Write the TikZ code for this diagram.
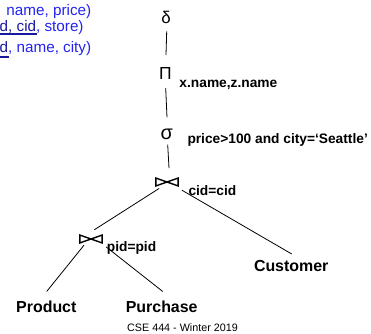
\documentclass[tikz,border=0pt]{standalone}
\usepackage{fontspec}
\setmainfont{Liberation Sans}
\definecolor{schemablue}{RGB}{35,35,240}
\definecolor{keyblue}{RGB}{25,25,160}
\begin{document}
\begin{tikzpicture}[x=1bp,y=-1bp,
  op/.style={inner sep=0pt},
  lab/.style={inner sep=0pt, anchor=base west, font=\bfseries\fontsize{13.8}{14}\selectfont},
  rel/.style={inner sep=0pt, font=\bfseries\fontsize{16}{16}\selectfont},
  schema/.style={inner sep=0pt, anchor=base west, text=schemablue, font=\fontsize{15.3}{16}\selectfont},
  ul/.style={draw=keyblue},
  edge/.style={line width=0.8bp},
  joinbox/.style={minimum width=22bp, minimum height=7.5bp, inner sep=0pt},
  bowtie/.style={line width=1.4bp, line join=miter}]
\useasboundingbox (0,0) rectangle (371,334);

% schema fragments
\node[schema] (s1) at (6.3,15) {name, price)};
\node[schema] (s2) at (-0.5,31.3) {\textcolor{keyblue}{d, cid}, store)};
\node[schema] (s3) at (-0.5,52.3) {\textcolor{keyblue}{d}, name, city)};
\draw[ul, line width=1.3bp] ([yshift=-2.7bp]s2.base west) -- ++(37,0);
\draw[ul, line width=2bp] ([yshift=-5bp]s3.base west) -- ++(9,0);

% operators
\node[op, font=\fontsize{17}{17}\selectfont] (delta) at (166,17.7) {δ};
\node[op, font=\fontsize{17.5}{17.5}\selectfont] (Pi) at (165.5,73) {Π};
\node[op, font=\fontsize{20}{20}\selectfont] (sigma) at (166.7,134) {σ};
\node[lab] (pilab) at (179.3,87) {x.name,z.name};
\node[lab] (siglab) at (187.3,143.3) {price>100 and city=‘Seattle’};

\node[joinbox] (j1) at (167,182) {};
\node[joinbox] (j2) at (91,239) {};
\draw[bowtie] (j1.north west) -- (j1.south west) -- (j1.north east) -- (j1.south east) -- cycle;
\draw[bowtie] (j2.north west) -- (j2.south west) -- (j2.north east) -- (j2.south east) -- cycle;
\node[lab] (j1lab) at (188.3,195) {cid=cid};
\node[lab] (j2lab) at (106.7,251.7) {pid=pid};

\node[rel] (cust) at (291.2,266.5) {Customer};
\node[rel] (prod) at (46.3,306.5) {Product};
\node[rel] (purch) at (161.7,306.5) {Purchase};
\node[inner sep=0pt, font=\fontsize{10.8}{11}\selectfont] (foot) at (182.5,327.2) {CSE 444 - Winter 2019};

% edges
\draw[edge] ([xshift=0.7bp,yshift=-7.3bp]delta.south) -- ([xshift=0.5bp,yshift=11.7bp]Pi.north);
\draw[edge] ([xshift=0.2bp,yshift=-9bp]Pi.south) -- ([xshift=0.3bp,yshift=11bp]sigma.north);
\draw[edge] ([xshift=1bp,yshift=-5bp]sigma.south) -- ([xshift=2bp,yshift=10bp]j1.north);
\draw[edge] ([xshift=3.3bp,yshift=-2.5bp]j1.south west) -- ([xshift=3.3bp,yshift=5.25bp]j2.north);
\draw[edge] ([xshift=3.7bp,yshift=-4.25bp]j1.south east) -- ([xshift=0.5bp,yshift=6.7bp]cust.north);
\draw[edge] ([xshift=-7bp,yshift=-2.25bp]j2.south) -- ([xshift=0.4bp,yshift=9bp]prod.north);
\draw[edge] ([xshift=4bp,yshift=-4bp]j2.south east) -- ([xshift=1bp,yshift=9bp]purch.north);
\end{tikzpicture}
\end{document}
